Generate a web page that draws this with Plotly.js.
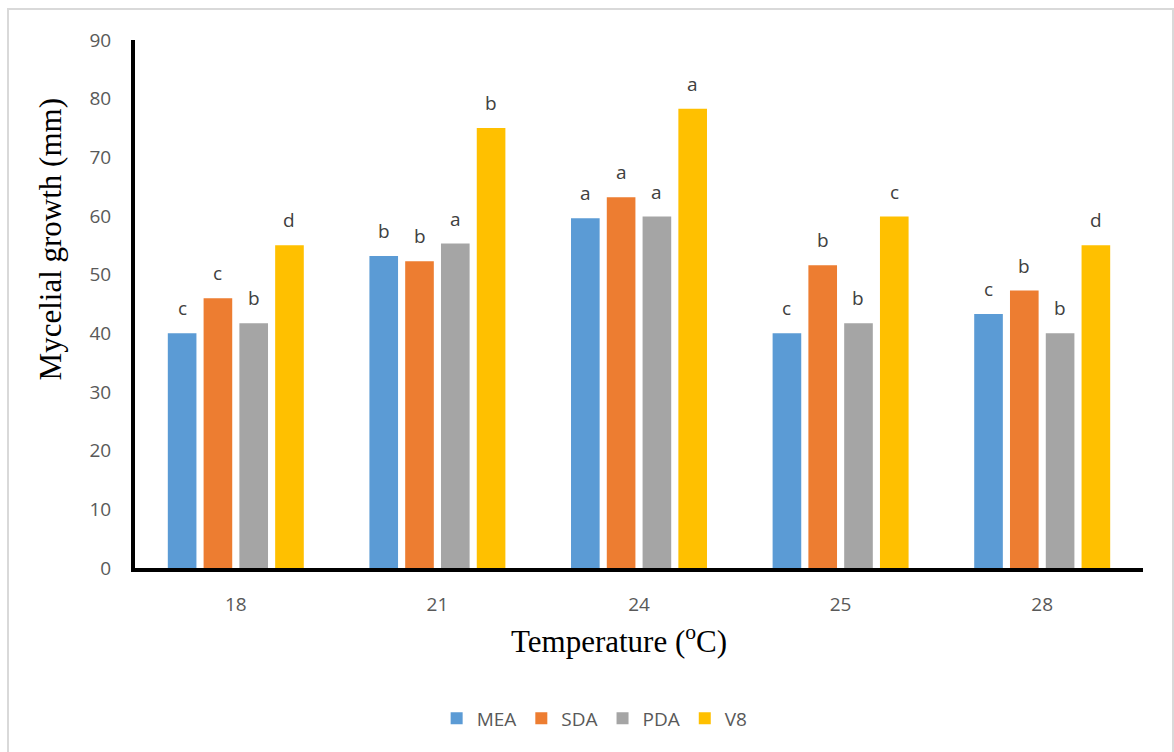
<!DOCTYPE html>
<html>
<head>
<meta charset="utf-8">
<script src="https://cdn.plot.ly/plotly-3.0.1.min.js"></script>
<style>
  html, body { margin: 0; padding: 0; background: #ffffff; }
  #chart { width: 1174px; height: 752px; position: absolute; left: 0; top: 0; }
  #frame { position: absolute; left: 7px; top: 8px; width: 1163px; height: 780px;
           border: 2px solid #d9d9d9; pointer-events: none; }
</style>
</head>
<body>
<div id="chart"></div>
<div id="frame"></div>
<script>
const temperatures = ['18', '21', '24', '25', '28'];
const seriesNames = ['MEA', 'SDA', 'PDA', 'V8'];
const MEA = [40.0, 53.2, 59.6, 40.0, 43.3];
const SDA = [46.0, 52.3, 63.2, 51.6, 47.3];
const PDA = [41.7, 55.3, 59.9, 41.7, 40.0];
const V8  = [55.0, 75.0, 78.3, 59.9, 55.0];
const MEA_letters = ['c', 'b', 'a', 'c', 'c'];
const SDA_letters = ['c', 'b', 'a', 'b', 'b'];
const PDA_letters = ['b', 'a', 'a', 'b', 'b'];
const V8_letters  = ['d', 'b', 'a', 'c', 'd'];
const yTicks = [0, 10, 20, 30, 40, 50, 60, 70, 80, 90];
const xTitle = 'Temperature (<sup>o</sup>C)';
const yTitle = 'Mycelial growth (mm)';

const colors = ['#5b9bd5', '#ed7d31', '#a5a5a5', '#ffc000'];
const values = [MEA, SDA, PDA, V8];
const letters = [MEA_letters, SDA_letters, PDA_letters, V8_letters];

const traces = values.map((v, i) => ({
  type: 'bar',
  name: seriesNames[i],
  x: temperatures,
  y: v,
  marker: { color: colors[i], line: { width: 0 } },
  hoverinfo: 'skip'
}));

// plot geometry (for letter offsets within group)
const marginL = 135, marginR = 31;
const plotW = 1174 - marginL - marginR;
const bargap = 0.29;
const catW = plotW / temperatures.length;
const slot = catW * (1 - bargap) / seriesNames.length;

const annotations = [];
values.forEach((v, i) => {
  v.forEach((val, j) => {
    annotations.push({
      x: j, y: val, xref: 'x', yref: 'y',
      text: letters[i][j], showarrow: false,
      xshift: (i - 1.5) * slot, yshift: 25, yanchor: 'middle',
      font: { family: 'Open Sans, Noto Sans, sans-serif', size: 19, color: '#404040' }
    });
  });
});

const titleFont = { family: 'Liberation Serif, Times New Roman, serif', size: 31, color: '#000000' };
annotations.push({
  xref: 'paper', yref: 'paper', x: 0.48, y: -0.135, xanchor: 'center', yanchor: 'middle',
  text: xTitle, showarrow: false, font: titleFont
});
annotations.push({
  xref: 'paper', yref: 'paper', x: -0.084, y: 0.623, xanchor: 'center', yanchor: 'middle',
  text: yTitle, showarrow: false, textangle: -90, font: titleFont
});

const tickFont = { family: 'Open Sans, Noto Sans, sans-serif', size: 19, color: '#595959' };

const layout = {
  width: 1174, height: 752,
  margin: { l: marginL, r: marginR, t: 40, b: 184 },
  paper_bgcolor: 'rgba(0,0,0,0)',
  plot_bgcolor: 'rgba(0,0,0,0)',
  barmode: 'group',
  bargap: bargap,
  bargroupgap: 0.2,
  showlegend: true,
  legend: {
    orientation: 'h', x: 0.456, xanchor: 'center', y: -0.285, yanchor: 'middle',
    font: { family: 'Open Sans, Noto Sans, sans-serif', size: 19, color: '#595959' },
    itemwidth: 30, traceorder: 'normal'
  },
  xaxis: {
    type: 'category',
    categoryorder: 'array', categoryarray: temperatures,
    range: [-0.5, temperatures.length - 0.5], autorange: false,
    showline: true, linecolor: '#000000', linewidth: 4,
    ticks: '', ticklabelstandoff: 16,
    tickfont: tickFont,
    fixedrange: true
  },
  yaxis: {
    range: [0, 90], autorange: false,
    tickvals: yTicks,
    showgrid: false, zeroline: false,
    showline: true, linecolor: '#000000', linewidth: 4,
    ticks: '', ticklabelstandoff: 16,
    tickfont: tickFont,
    fixedrange: true
  },
  annotations: annotations
};

Plotly.newPlot('chart', traces, layout, { displayModeBar: false, staticPlot: true });
</script>
</body>
</html>
